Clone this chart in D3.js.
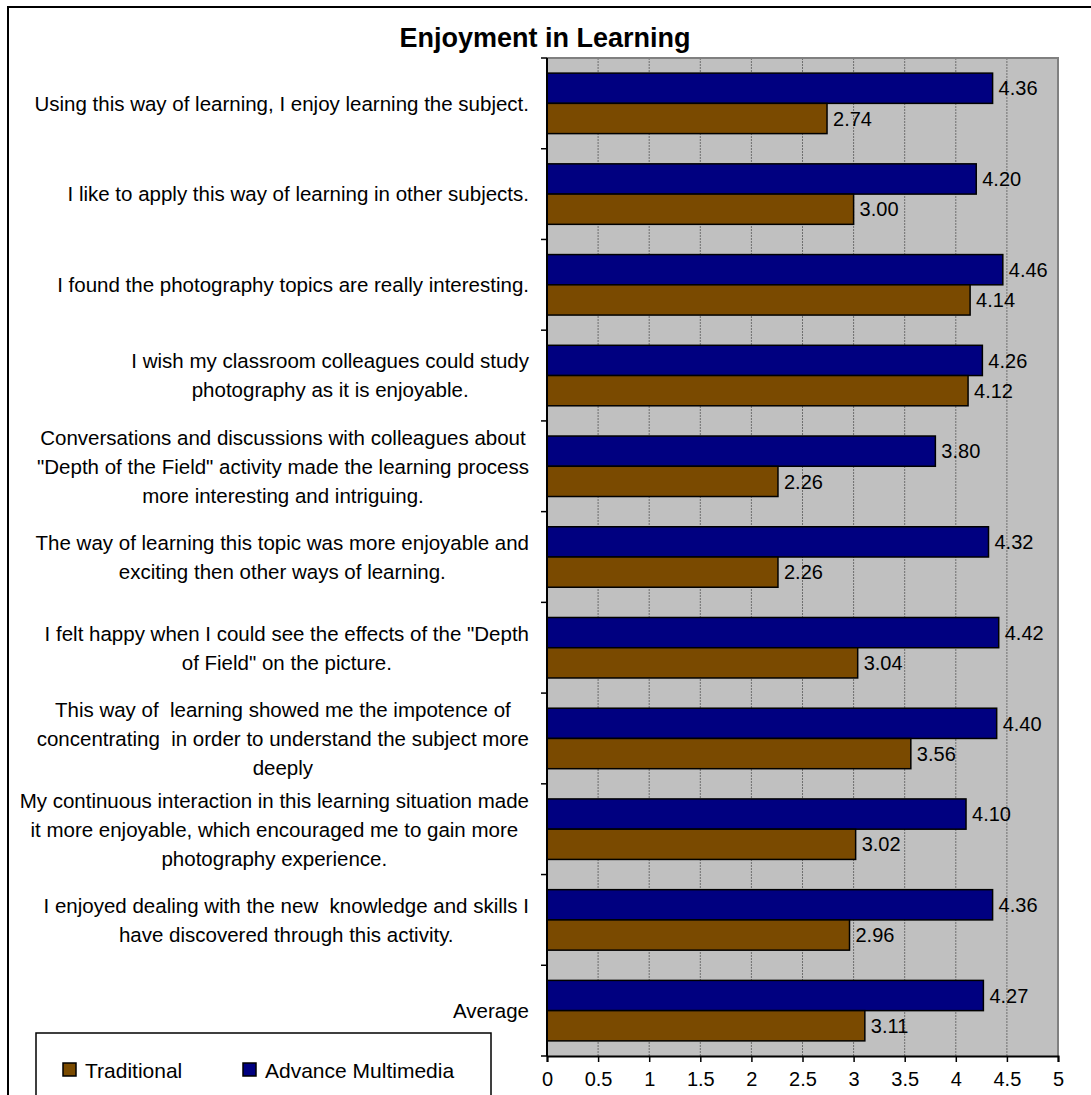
<!DOCTYPE html>
<html>
<head>
<meta charset="utf-8">
<script src="https://cdn.jsdelivr.net/npm/d3@7"></script>
<style>
  html, body { margin: 0; padding: 0; background: #ffffff; }
  svg { display: block; font-family: Arial, "Liberation Sans", sans-serif; }
  .lbl { white-space: pre; }
</style>
</head>
<body>
<svg id="chart" width="1091" height="1095"></svg>
<script>
// Survey statements (one entry per line of wrapped text)
const statements = [
  ["Using this way of learning, I enjoy learning the subject."],
  ["I like to apply this way of learning in other subjects."],
  ["I found the photography topics are really interesting."],
  ["I wish my classroom colleagues could study", "photography as it is enjoyable."],
  ["Conversations and discussions with colleagues about", "\"Depth of the Field\" activity made the learning process", "more interesting and intriguing."],
  ["The way of learning this topic was more enjoyable and", "exciting then other ways of learning."],
  ["I felt happy when I could see the effects of the \"Depth", "of Field\" on the picture."],
  ["This way of  learning showed me the impotence of", "concentrating  in order to understand the subject more", "deeply"],
  ["My continuous interaction in this learning situation made", "it more enjoyable, which encouraged me to gain more", "photography experience."],
  ["I enjoyed dealing with the new  knowledge and skills I", "have discovered through this activity."],
  ["Average"]
];

// Mean scores per statement
const advanceMultimedia = [4.36, 4.20, 4.46, 4.26, 3.80, 4.32, 4.42, 4.40, 4.10, 4.36, 4.27];
const traditional       = [2.74, 3.00, 4.14, 4.12, 2.26, 2.26, 3.04, 3.56, 3.02, 2.96, 3.11];

const seriesNames = ["Advance Multimedia", "Traditional"];
const legendOrder = ["Traditional", "Advance Multimedia"];
const xTicks = [0, 0.5, 1, 1.5, 2, 2.5, 3, 3.5, 4, 4.5, 5];
const chartTitle = "Enjoyment in Learning";

const colors = { "Advance Multimedia": "#000080", "Traditional": "#7a4a00" };
const seriesValues = { "Advance Multimedia": advanceMultimedia, "Traditional": traditional };

const svg = d3.select("#chart");

// Outer chart frame
svg.append("rect")
  .attr("x", 8).attr("y", 7).attr("width", 1200).attr("height", 1200)
  .attr("fill", "#ffffff").attr("stroke", "#000").attr("stroke-width", 2);

const plot = { left: 547, right: 1058, top: 58, bottom: 1056 };

const x = d3.scaleLinear().domain([0, 5]).range([plot.left, plot.right]);
const y0 = d3.scaleBand().domain(d3.range(statements.length)).range([plot.top, plot.bottom]);
const y1 = d3.scaleBand().domain(seriesNames).range([0, y0.bandwidth()])
  .paddingInner(0).paddingOuter(0.5);

// Plot background
svg.append("rect")
  .attr("x", x(0)).attr("y", plot.top)
  .attr("width", x(5) - x(0)).attr("height", plot.bottom - plot.top)
  .attr("fill", "#c0c0c0");

// Vertical gridlines
svg.append("g").selectAll("line")
  .data(xTicks.filter(t => t > 0 && t < 5))
  .join("line")
  .attr("x1", d => x(d)).attr("x2", d => x(d))
  .attr("y1", plot.top).attr("y2", plot.bottom)
  .attr("stroke", "#6e6e6e").attr("stroke-width", 1)
  .attr("stroke-dasharray", "2,1");

// Plot border (top and right)
svg.append("path")
  .attr("d", `M${x(0)},${plot.top}H${x(5)}V${plot.bottom}`)
  .attr("fill", "none").attr("stroke", "#808080").attr("stroke-width", 2);

// Bars
const groups = svg.append("g").selectAll("g")
  .data(statements.map((s, i) => i))
  .join("g")
  .attr("transform", i => `translate(0,${y0(i)})`);

groups.selectAll("rect")
  .data(i => seriesNames.map(name => ({ name, value: seriesValues[name][i] })))
  .join("rect")
  .attr("x", x(0))
  .attr("y", d => y1(d.name))
  .attr("width", d => x(d.value) - x(0))
  .attr("height", y1.bandwidth())
  .attr("fill", d => colors[d.name])
  .attr("stroke", "#000").attr("stroke-width", 1.5);

// Value labels
groups.selectAll("text")
  .data(i => seriesNames.map(name => ({ name, value: seriesValues[name][i] })))
  .join("text")
  .attr("x", d => x(d.value) + 6)
  .attr("y", d => y1(d.name) + y1.bandwidth() / 2)
  .attr("dy", "0.36em")
  .attr("font-size", 20)
  .attr("fill", "#000")
  .text(d => d3.format(".2f")(d.value));

// Left axis line and boundary ticks
svg.append("line")
  .attr("x1", x(0)).attr("x2", x(0))
  .attr("y1", plot.top).attr("y2", plot.bottom)
  .attr("stroke", "#000").attr("stroke-width", 2);
svg.append("g").selectAll("line")
  .data(d3.range(statements.length + 1))
  .join("line")
  .attr("x1", x(0) - 6).attr("x2", x(0))
  .attr("y1", i => i < statements.length ? y0(i) : plot.bottom)
  .attr("y2", i => i < statements.length ? y0(i) : plot.bottom)
  .attr("stroke", "#000").attr("stroke-width", 1.5);

// Category labels: wrapped lines centred within a right-aligned block
const lineGap = 29;
const labels = svg.append("g").attr("font-size", 20.5).attr("fill", "#000");
statements.forEach((lines, i) => {
  const g = labels.append("g");
  const texts = lines.map(l => g.append("text").attr("class", "lbl").text(l));
  const widths = texts.map(t => t.node().getComputedTextLength());
  const blockW = d3.max(widths);
  const cx = 529 - blockW / 2;
  const cy = y0(i) + y0.bandwidth() / 2;
  texts.forEach((t, k) => {
    t.attr("x", cx).attr("text-anchor", "middle")
     .attr("y", cy + (k - (lines.length - 1) / 2) * lineGap)
     .attr("dy", "0.36em");
  });
});

// Bottom axis
const xAxis = d3.axisBottom(x).tickValues(xTicks).tickSize(6).tickPadding(10)
  .tickFormat(d => String(d));
const gx = svg.append("g")
  .attr("transform", `translate(0,${plot.bottom})`)
  .call(xAxis);
gx.select(".domain").attr("stroke", "#000").attr("stroke-width", 2);
gx.selectAll(".tick line").attr("stroke", "#000").attr("stroke-width", 1.5);
gx.selectAll(".tick text").attr("font-size", 20).attr("font-family", "Arial, 'Liberation Sans', sans-serif").attr("fill", "#000");

// Title
svg.append("text")
  .attr("x", 545).attr("y", 47)
  .attr("text-anchor", "middle")
  .attr("font-size", 27).attr("font-weight", "bold")
  .text(chartTitle);

// Legend
const legend = svg.append("g");
legend.append("rect")
  .attr("x", 36).attr("y", 1033).attr("width", 455).attr("height", 100)
  .attr("fill", "#fff").attr("stroke", "#000").attr("stroke-width", 1.5);
const legendX = { "Traditional": 63, "Advance Multimedia": 243 };
legendOrder.forEach(name => {
  legend.append("rect")
    .attr("x", legendX[name]).attr("y", 1063).attr("width", 13).attr("height", 13)
    .attr("fill", colors[name]).attr("stroke", "#000").attr("stroke-width", 1.5);
  legend.append("text")
    .attr("x", legendX[name] + 22).attr("y", 1070).attr("dy", "0.36em")
    .attr("font-size", 21).attr("fill", "#000")
    .text(name);
});
</script>
</body>
</html>
